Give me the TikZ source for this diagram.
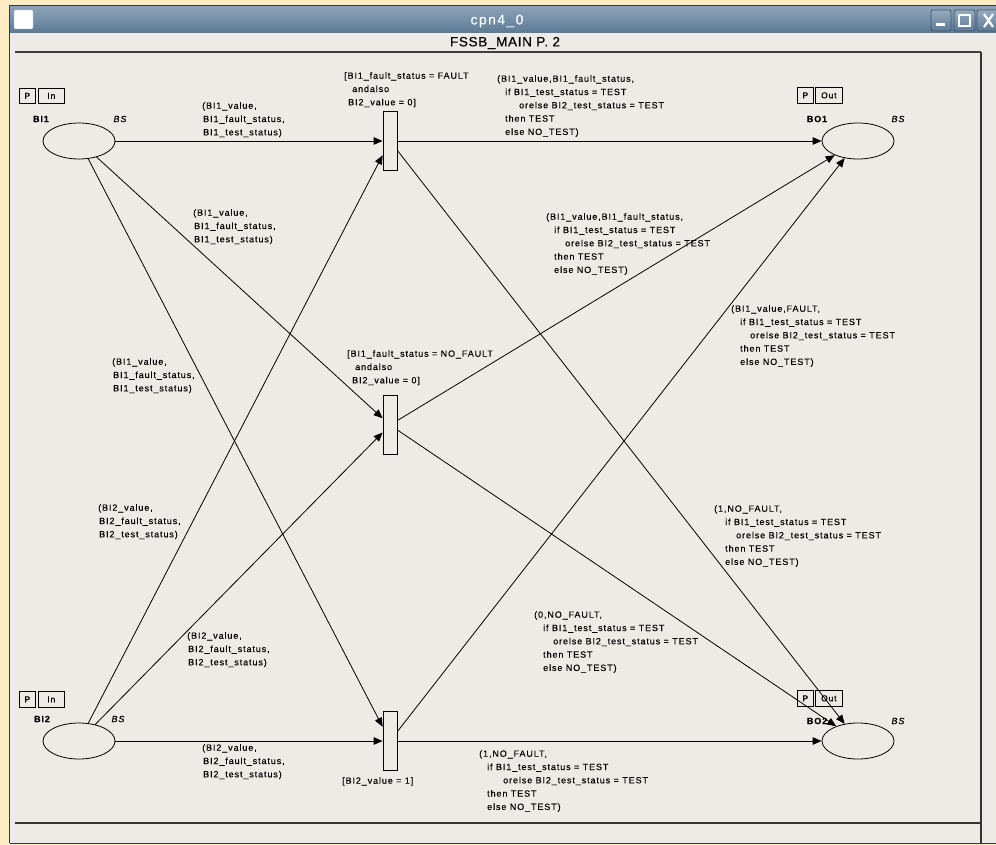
\documentclass[tikz,border=0pt]{standalone}
\usepackage{fontspec}
\setmainfont{Liberation Sans}
\newfontfamily\lblfont[LetterSpace=10,FakeBold=0.25]{Liberation Sans}
\newfontfamily\titlefont[LetterSpace=10,FakeBold=0.4]{Liberation Sans}
\newfontfamily\headfont[LetterSpace=5,FakeBold=0.3]{Liberation Sans}
\usetikzlibrary{arrows.meta,shapes.geometric}
\definecolor{cream}{HTML}{FDEBC4}
\definecolor{canvas}{HTML}{EEEBE6}
\definecolor{bartop}{HTML}{8AA2B7}
\definecolor{barbot}{HTML}{5D7B95}
\definecolor{btnline}{HTML}{3E566B}
\definecolor{frameline}{HTML}{2E3B47}
\begin{document}
\begin{tikzpicture}[x=1pt,y=-1pt,
  place/.style={ellipse, draw, line width=0.8pt, minimum width=72pt, minimum height=36pt, inner sep=0pt},
  trans/.style={rectangle, draw, fill=canvas, line width=0.8pt, minimum width=14pt, minimum height=59pt, inner sep=0pt},
  arc/.style={-{Triangle[length=9pt,width=7.5pt]}, line width=0.8pt},
  lab/.style={font=\lblfont\fontsize{9}{13.3}\selectfont, anchor=north west, inner sep=0pt, align=left},
  pname/.style={font=\lblfont\bfseries\fontsize{9}{11}\selectfont, inner sep=0pt},
  ptype/.style={font=\lblfont\itshape\fontsize{9}{11}\selectfont, inner sep=0pt},
  tagbox/.style={draw, line width=0.7pt, font=\lblfont\fontsize{8.5}{10}\selectfont, inner sep=0pt, anchor=north west},
  winbtn/.style={draw=btnline, rounded corners=2pt, line width=0.8pt, top color=bartop!90!white, bottom color=barbot}
]
\useasboundingbox (0,0) rectangle (996,845);
% ---------- window frame ----------
\fill[cream] (0,0) rectangle (996,845);
\fill[canvas] (9,5) rectangle (996,843);
\draw[frameline, line width=1pt] (9.5,843) -- (9.5,5.5) -- (996,5.5);
\draw[frameline, line width=1pt] (9.5,843) -- (996,843);
\shade[top color=bartop, bottom color=barbot] (10,7) rectangle (996,33);
\node[font=\titlefont\fontsize{14}{16}\selectfont, text=white, inner sep=0pt] (wintitle) at (497,21) {cpn4\_0};
\draw[draw=gray!70, fill=white, rounded corners=1pt] (14,10) rectangle (33,29);
\draw[winbtn] (931,10) rectangle (951,31);
\fill[white] (936,23) rectangle (945,26);
\draw[winbtn] (954,10) rectangle (975,31);
\draw[white, line width=1.6pt] (959,15) rectangle (970,26);
\draw[winbtn] (977,10) rectangle (1000,31);
\draw[white, line width=2.2pt] (984,14) -- (993,27) (993,14) -- (984,27);
\node[font=\headfont\fontsize{13.5}{15}\selectfont, inner sep=0pt] (pagetitle) at (505,43) {FSSB\_MAIN P. 2};
\draw[black!75, line width=1.4pt] (15,52) -- (981,52);
\draw[black!80, line width=1.2pt] (981,52) -- (981,843);
\draw[black!80, line width=1.2pt] (15,823) -- (981,823);
% ---------- places ----------
\node[place] (BI1) at (79,141) {};
\node[place] (BO1) at (858,141) {};
\node[place] (BI2) at (79,741) {};
\node[place] (BO2) at (858,741) {};
\node[pname] (nBI1) at (41,119) {BI1};
\node[ptype] (tBI1) at (120,119) {BS};
\node[pname] (nBO1) at (817,119) {BO1};
\node[ptype] (tBO1) at (898,119) {BS};
\node[pname] (nBI2) at (42,719) {BI2};
\node[ptype] (tBI2) at (118,719) {BS};
\node[pname] (nBO2) at (817,721) {BO2};
\node[ptype] (tBO2) at (898,721) {BS};
% port tags
\node[tagbox, minimum width=16pt, minimum height=15pt] (pBI1) at (19,88) {P};
\node[tagbox, minimum width=26pt, minimum height=15pt] (iBI1) at (38,88) {In};
\node[tagbox, minimum width=16pt, minimum height=16pt] (pBI2) at (19,691) {P};
\node[tagbox, minimum width=26pt, minimum height=16pt] (iBI2) at (38,691) {In};
\node[tagbox, minimum width=16pt, minimum height=16pt] (pBO1) at (797,87) {P};
\node[tagbox, minimum width=27pt, minimum height=16pt] (oBO1) at (815,87) {Out};
\node[tagbox, minimum width=16pt, minimum height=16pt] (pBO2) at (797,690) {P};
\node[tagbox, minimum width=27pt, minimum height=16pt] (oBO2) at (815,690) {Out};
% ---------- transitions ----------
\node[trans] (T1) at (390,141) {};
\node[trans] (T2) at (390,425) {};
\node[trans] (T3) at (390,741) {};
% ---------- arcs ----------
\draw[arc] (BI1) -- (T1);
\draw[arc] (BI1) -- (T2);
\draw[arc] (BI1) -- (T3);
\draw[arc] (BI2) -- (T1);
\draw[arc] (BI2) -- (T2);
\draw[arc] (BI2) -- (T3);
\draw[arc] (T1) -- (BO1);
\draw[arc] (T2) -- (BO1);
\draw[arc] (T3) -- (BO1);
\draw[arc] (T1) -- (BO2);
\draw[arc] (T2) -- (BO2);
\draw[arc] (T3) -- (BO2);
% ---------- guards ----------
\node[lab] (g1) at (344,72) {[BI1\_fault\_status = FAULT\\\hspace*{8pt}andalso\\\hspace*{4pt}BI2\_value = 0]};
\node[lab] (g2) at (347,350) {[BI1\_fault\_status = NO\_FAULT\\\hspace*{8pt}andalso\\\hspace*{5pt}BI2\_value = 0]};
\node[lab] (g3) at (342,777) {[BI2\_value = 1]};
% ---------- input arc inscriptions ----------
\node[lab] (a1) at (202,102) {(BI1\_value,\\\hspace*{1pt}BI1\_fault\_status,\\\hspace*{1pt}BI1\_test\_status)};
\node[lab] (a2) at (193,209) {(BI1\_value,\\\hspace*{1pt}BI1\_fault\_status,\\\hspace*{1pt}BI1\_test\_status)};
\node[lab] (a3) at (112,358) {(BI1\_value,\\\hspace*{1pt}BI1\_fault\_status,\\\hspace*{1pt}BI1\_test\_status)};
\node[lab] (a4) at (98,504) {(BI2\_value,\\\hspace*{1pt}BI2\_fault\_status,\\\hspace*{1pt}BI2\_test\_status)};
\node[lab] (a5) at (187,632) {(BI2\_value,\\\hspace*{1pt}BI2\_fault\_status,\\\hspace*{1pt}BI2\_test\_status)};
\node[lab] (a6) at (202,744) {(BI2\_value,\\\hspace*{1pt}BI2\_fault\_status,\\\hspace*{1pt}BI2\_test\_status)};
% ---------- output arc inscriptions ----------
\node[lab] (a7) at (497,75) {(BI1\_value,BI1\_fault\_status,\\\hspace*{8pt}if BI1\_test\_status = TEST\\\hspace*{22pt}orelse BI2\_test\_status = TEST\\\hspace*{8pt}then TEST\\\hspace*{8pt}else NO\_TEST)};
\node[lab] (a8) at (546,213) {(BI1\_value,BI1\_fault\_status,\\\hspace*{8pt}if BI1\_test\_status = TEST\\\hspace*{19pt}orelse BI2\_test\_status = TEST\\\hspace*{8pt}then TEST\\\hspace*{8pt}else NO\_TEST)};
\node[lab] (a9) at (731,305) {(BI1\_value,FAULT,\\\hspace*{9pt}if BI1\_test\_status = TEST\\\hspace*{19pt}orelse BI2\_test\_status = TEST\\\hspace*{9pt}then TEST\\\hspace*{9pt}else NO\_TEST)};
\node[lab] (a10) at (714,505) {(1,NO\_FAULT,\\\hspace*{11pt}if BI1\_test\_status = TEST\\\hspace*{22pt}orelse BI2\_test\_status = TEST\\\hspace*{11pt}then TEST\\\hspace*{11pt}else NO\_TEST)};
\node[lab] (a11) at (534,611) {(0,NO\_FAULT,\\\hspace*{9pt}if BI1\_test\_status = TEST\\\hspace*{19pt}orelse BI2\_test\_status = TEST\\\hspace*{9pt}then TEST\\\hspace*{9pt}else NO\_TEST)};
\node[lab] (a12) at (479,750) {(1,NO\_FAULT,\\\hspace*{8pt}if BI1\_test\_status = TEST\\\hspace*{24pt}orelse BI2\_test\_status = TEST\\\hspace*{8pt}then TEST\\\hspace*{8pt}else NO\_TEST)};
\end{tikzpicture}
\end{document}
